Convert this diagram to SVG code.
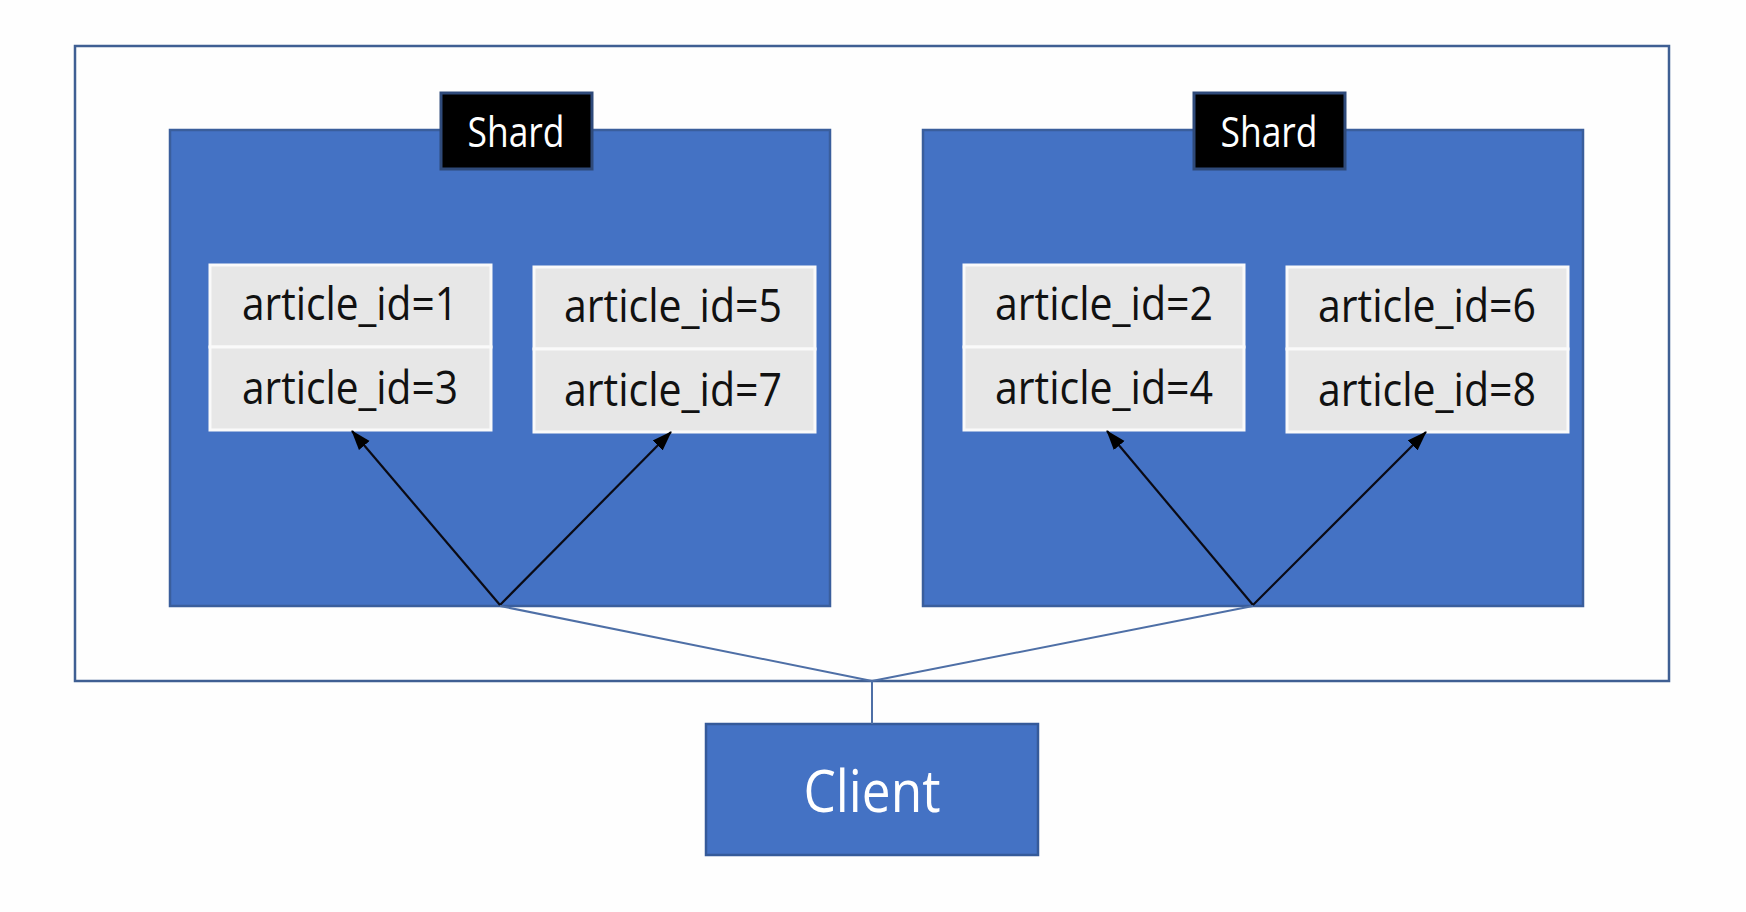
<svg xmlns="http://www.w3.org/2000/svg" width="1746" height="912" viewBox="0 0 1746 912">
  <defs>
    <marker id="arr" markerUnits="userSpaceOnUse" markerWidth="20" markerHeight="16" viewBox="0 0 20 16" refX="19" refY="8" orient="auto">
      <path d="M0,1 L20,8 L0,15 Z" fill="#000"/>
    </marker>
    <style>
      .outer { fill: #fefefe; stroke: #3f5f93; stroke-width: 2.5; }
      .shard { fill: #4472c4; stroke: #3a5e9c; stroke-width: 2.5; }
      .label { fill: #000; stroke: #2f4a7a; stroke-width: 3; }
      .labeltext { font-family: "Open Sans", "Noto Sans", sans-serif; font-size: 42px; fill: #fff; text-anchor: middle; }
      .cell { fill: #e7e7e7; stroke: #fafafa; stroke-width: 3; }
      .celltext { font-family: "Open Sans", "Noto Sans", sans-serif; font-size: 45px; fill: #111; text-anchor: middle; }
      .arrow { stroke: #0a0a14; stroke-width: 2.2; fill: none; }
      .link { stroke: #4e6fa6; stroke-width: 2; fill: none; }
      .client { fill: #4472c4; stroke: #355a9a; stroke-width: 2.5; }
      .clienttext { font-family: "Open Sans", "Noto Sans", sans-serif; font-size: 58px; fill: #fff; text-anchor: middle; }
    </style>
  </defs>

  <rect width="1746" height="912" fill="#fefefe"/>

  <g id="cluster">
    <rect class="outer" x="75" y="46" width="1594" height="635"/>
  </g>

  <g id="shard-left">
    <rect class="shard" x="170" y="130" width="660" height="476"/>
    <rect class="label" x="441" y="93" width="151" height="76"/>
    <text class="labeltext" x="516" y="147" textLength="97" lengthAdjust="spacingAndGlyphs">Shard</text>
  </g>

  <g id="shard-right">
    <rect class="shard" x="923" y="130" width="660" height="476"/>
    <rect class="label" x="1194" y="93" width="151" height="76"/>
    <text class="labeltext" x="1269" y="147" textLength="97" lengthAdjust="spacingAndGlyphs">Shard</text>
  </g>

  <g id="group-1-3">
    <rect class="cell" x="210" y="265" width="281" height="82"/>
    <rect class="cell" x="210" y="347" width="281" height="83"/>
    <text class="celltext" x="350" y="320" textLength="216" lengthAdjust="spacingAndGlyphs">article_id=1</text>
    <text class="celltext" x="350" y="404" textLength="216" lengthAdjust="spacingAndGlyphs">article_id=3</text>
  </g>

  <g id="group-5-7">
    <rect class="cell" x="534" y="267" width="281" height="82"/>
    <rect class="cell" x="534" y="349" width="281" height="83"/>
    <text class="celltext" x="673" y="322" textLength="218" lengthAdjust="spacingAndGlyphs">article_id=5</text>
    <text class="celltext" x="673" y="406" textLength="218" lengthAdjust="spacingAndGlyphs">article_id=7</text>
  </g>

  <g id="group-2-4">
    <rect class="cell" x="964" y="265" width="280" height="82"/>
    <rect class="cell" x="964" y="347" width="280" height="83"/>
    <text class="celltext" x="1104" y="320" textLength="218" lengthAdjust="spacingAndGlyphs">article_id=2</text>
    <text class="celltext" x="1104" y="404" textLength="218" lengthAdjust="spacingAndGlyphs">article_id=4</text>
  </g>

  <g id="group-6-8">
    <rect class="cell" x="1287" y="267" width="281" height="82"/>
    <rect class="cell" x="1287" y="349" width="281" height="83"/>
    <text class="celltext" x="1427" y="322" textLength="218" lengthAdjust="spacingAndGlyphs">article_id=6</text>
    <text class="celltext" x="1427" y="406" textLength="218" lengthAdjust="spacingAndGlyphs">article_id=8</text>
  </g>

  <g id="client">
    <rect class="client" x="706" y="724" width="332" height="131"/>
    <text class="clienttext" x="872" y="812" textLength="137" lengthAdjust="spacingAndGlyphs">Client</text>
  </g>

  <g id="connectors">
    <line class="arrow" x1="500" y1="605" x2="352" y2="431" marker-end="url(#arr)"/>
    <line class="arrow" x1="500" y1="605" x2="671" y2="432" marker-end="url(#arr)"/>
    <line class="arrow" x1="1253" y1="605" x2="1107" y2="431" marker-end="url(#arr)"/>
    <line class="arrow" x1="1253" y1="605" x2="1426" y2="432" marker-end="url(#arr)"/>
    <line class="link" x1="500" y1="606" x2="872" y2="681"/>
    <line class="link" x1="1253" y1="606" x2="872" y2="681"/>
    <line class="link" x1="872" y1="681" x2="872" y2="724"/>
  </g>
</svg>
